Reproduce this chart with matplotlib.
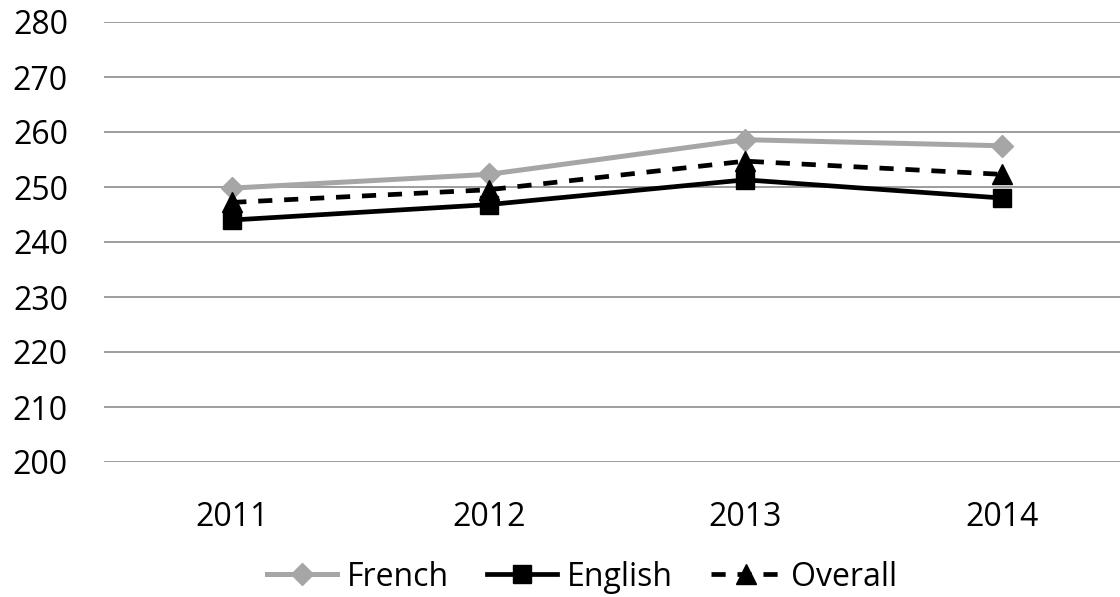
import matplotlib
matplotlib.use("Agg")
import matplotlib.pyplot as plt

years = ["2011", "2012", "2013", "2014"]
french = [249.8, 252.3, 258.6, 257.5]
english = [244.0, 246.8, 251.3, 248.0]
overall = [247.2, 249.5, 254.7, 252.3]
yticks = [200, 210, 220, 230, 240, 250, 260, 270, 280]

plt.rcParams['font.family'] = ['Open Sans', 'DejaVu Sans']

fig = plt.figure(figsize=(11.2, 5.97), dpi=100)
ax = fig.add_axes([104/1120, 1 - 462/597, 1026/1120, 440/597])
x = list(range(len(years)))

ax.plot(x, french, color='#A6A6A6', lw=3.6, marker='D', ms=11, label='French', zorder=3)
ax.plot(x, english, color='black', lw=3.4, marker='s', ms=13, label='English', zorder=4)
ax.plot(x, overall, color='black', lw=3.4, ls=(0, (3, 2.5)), marker='^', ms=14, label='Overall', zorder=5)

ax.set_xlim(-0.5, 3.5)
ax.set_ylim(200, 280)
ax.set_yticks(yticks)
ax.set_yticklabels([str(t) for t in yticks])
ax.set_xticks(x)
ax.set_xticklabels(years)
ax.yaxis.grid(True, color='#8C8C8C', lw=1.2)
ax.set_axisbelow(True)
for s in ax.spines.values():
    s.set_visible(False)
ax.tick_params(axis='both', length=0, labelsize=23)
ax.tick_params(axis='y', pad=26)
ax.tick_params(axis='x', pad=28)

leg = fig.legend(loc='center', bbox_to_anchor=(582/1120, 1 - 577/597), ncol=3, frameon=False,
                 fontsize=23, handlelength=2.2, handletextpad=0.3, columnspacing=1.2)

fig.savefig('out.png', dpi=100)
